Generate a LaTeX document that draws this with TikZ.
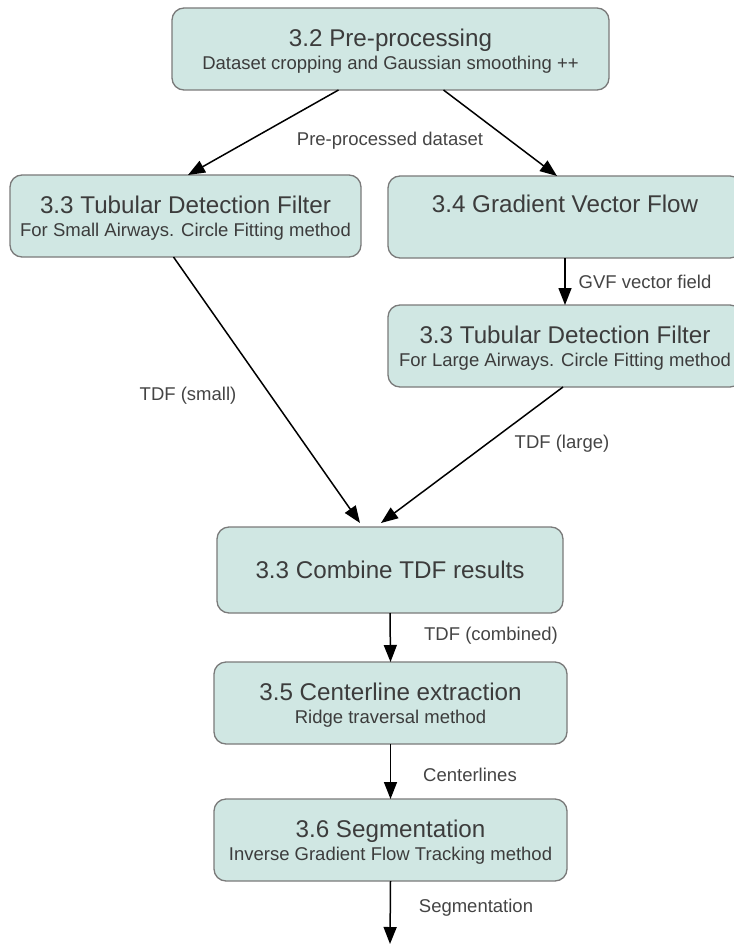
\documentclass[tikz,border=0pt]{standalone}
\usepackage{fontspec}
\setmainfont{Liberation Sans}
\usetikzlibrary{arrows.meta}
\definecolor{boxfill}{RGB}{208,231,227}
\definecolor{boxline}{RGB}{122,122,122}
\definecolor{txt}{RGB}{60,60,60}
\definecolor{lbl}{RGB}{68,68,68}
\newcommand{\ttl}{\fontsize{24.2}{23.5}\selectfont}
\newcommand{\subt}{\fontsize{18.5}{22}\selectfont}
\tikzset{
  stagebox/.style={draw=boxline, fill=boxfill, line width=1.3pt, rounded corners=12pt,
    inner sep=0pt, outer sep=0pt, align=center, text=txt, anchor=north west, font=\ttl},
  flow/.style={draw=black, line width=1.5pt, -{Triangle[length=17pt,width=13pt]}},
  elabel/.style={text=lbl, font=\subt, inner sep=0pt}
}
\begin{document}
\begin{tikzpicture}[x=1pt,y=-1pt]
\useasboundingbox (0,0) rectangle (733,944);
% boxes
\node[stagebox, minimum width=437pt, minimum height=82pt] (pre) at (172,8)
  {\rule{0pt}{22pt}3.2 Pre-processing\\{\subt Dataset cropping and Gaussian smoothing ++}};
\node[stagebox, minimum width=351pt, minimum height=82pt] (tdfs) at (10,175)
  {\rule{0pt}{22pt}3.3 Tubular Detection Filter\\{\subt For Small Airways. Circle Fitting method}};
\node[stagebox, minimum width=354pt, minimum height=82pt] (gvf) at (388,176)
  {\rule{0pt}{22pt}3.4 Gradient Vector Flow\\{\subt\strut}};
\node[stagebox, minimum width=354pt, minimum height=82pt] (tdfl) at (388,305)
  {\rule{0pt}{22pt}3.3 Tubular Detection Filter\\{\subt For Large Airways. Circle Fitting method}};
\node[stagebox, minimum width=346pt, minimum height=86pt] (comb) at (217,527)
  {3.3 Combine TDF results};
\node[stagebox, minimum width=353pt, minimum height=82pt] (cent) at (214,662)
  {\rule{0pt}{22pt}3.5 Centerline extraction\\{\subt Ridge traversal method}};
\node[stagebox, minimum width=353pt, minimum height=82pt] (seg) at (214,799)
  {\rule{0pt}{22pt}3.6 Segmentation\\{\subt Inverse Gradient Flow Tracking method}};
\coordinate (out) at (390,944);
% connectors
\draw[flow] ([xshift=-52pt]pre.south) -- ([xshift=2.5pt]tdfs.north);
\draw[flow] ([xshift=53pt]pre.south) -- ([xshift=-8pt]gvf.north);
\draw[flow] (gvf.south) -- (tdfl.north);
\draw[flow] ([xshift=-12pt]tdfs.south) -- ([xshift=-30pt,yshift=4pt]comb.north);
\draw[flow] ([xshift=-2pt]tdfl.south) -- ([xshift=-9pt,yshift=4pt]comb.north);
\draw[flow] (comb.south) -- (cent.north);
\draw[flow] (cent.south) -- (seg.north);
\draw[flow] (seg.south) -- (out);
% labels
\node[elabel] (l1) at (390,141) {Pre-processed dataset};
\node[elabel] (l2) at (645,282) {GVF vector field};
\node[elabel] (l3) at (188,396) {TDF (small)};
\node[elabel] (l4) at (562,444) {TDF (large)};
\node[elabel] (l5) at (491,636) {TDF (combined)};
\node[elabel] (l6) at (470,775) {Centerlines};
\node[elabel] (l7) at (476,908) {Segmentation};
\end{tikzpicture}
\end{document}
